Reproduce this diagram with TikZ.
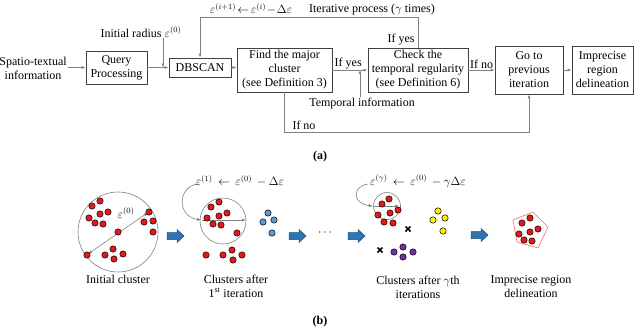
\documentclass[tikz,border=0pt]{standalone}
\usepackage{amssymb, amsmath}
\usepackage{fontspec}
\setmainfont{Liberation Serif}
\usepackage{tikz}
\usetikzlibrary{calc,arrows.meta}
\usetikzlibrary{positioning}
\definecolor{rg-line}{HTML}{808080}
\definecolor{rg-box}{HTML}{404040}
\definecolor{rg-red}{HTML}{E81818}
\definecolor{rg-blue}{HTML}{5B9BD5}
\definecolor{rg-yellow}{HTML}{FFF200}
\definecolor{rg-purple}{HTML}{7030A0}
\definecolor{rg-arrow}{HTML}{2E75B6}
\definecolor{rg-arrowedge}{HTML}{1F4E79}
\definecolor{rg-hull}{HTML}{F06A6A}
\tikzset{
  every node/.style={font=\fontsize{12}{14}\selectfont, inner sep=1pt},
  procbox/.style={draw=rg-box, line width=0.8pt, align=center},
  flow/.style={->, rg-line, line width=0.7pt},
  ringline/.style={rg-line, line width=0.6pt},
  dotmark/.style={draw=black, line width=0.5pt},
  crossmark/.style={black, line width=1.6pt},
  fatarrow/.pic={\draw[fill=rg-arrow, draw=rg-arrowedge, line width=0.5pt]
    (0,-3.5) -- (10,-3.5) -- (10,-6.5) -- (17,0) -- (10,6.5) -- (10,3.5) -- (0,3.5) -- cycle;}
}

\begin{document}
\begin{tikzpicture}[x=1pt, y=-1pt, >={Latex[length=4pt,width=3pt]}]
    \useasboundingbox (0,0) rectangle (640,333);
    % (a) process chain
    \node[align=center] (spatio) at (33,68) {Spatio-textual\\information};
    \node[procbox, minimum width=61, minimum height=33] (query) at (116.5,67.5) {Query\\Processing};
    \node[procbox, minimum width=62, minimum height=19] (dbscan) at (200,67.5) {DBSCAN};
    \node[procbox, minimum width=95, minimum height=44] (major) at (284.5,70) {Find the major\\cluster\\(see Definition 3)};
    \node[procbox, minimum width=100, minimum height=44] (check) at (418,70) {Check the\\temporal regularity\\(see Definition 6)};
    \node[procbox, minimum width=68, minimum height=48] (previous) at (529,70) {Go to\\previous\\iteration};
    \node[procbox, minimum width=61, minimum height=48] (imprecise) at (602.5,70) {Imprecise\\region\\delineation};
    \node (init) at (141,32) {Initial radius $\varepsilon^{(0)}$};
    \node (temporal) at (362,104) {Temporal information};
    \coordinate (initjoin) at (163,67.5);
    \coordinate (tempjoin) at (360,70);
    \draw[flow] (spatio.east |- query.west) -- (query.west);
    \draw[flow] (query.east) -- (dbscan.west);
    \draw[flow] (initjoin |- init.south) -- (initjoin);
    \draw[flow] (dbscan.east) -- (dbscan.east -| major.west);
    \draw[flow] (major.east) -- node[above, black, pos=0.45] {If yes} (check.west);
    \draw[flow] (tempjoin |- temporal.north) -- (tempjoin);
    \draw[flow] (check.east) -- node[above, black] {If no} (previous.west);
    \draw[flow] (previous.east) -- (imprecise.west);
    \draw[flow] (check.north) -- (check.north |- 0,17) -| (dbscan.north);
    \draw[flow] (major.south) -- ++(0,40) -| (previous.south);
    \node at (401,40) {If yes};
    \node at (304,125) {If no};
    \node at (251,9) {$\varepsilon^{(i+1)} \!\leftarrow\! \varepsilon^{(i)} \!-\! \Delta\varepsilon$};
    \node at (372,10) {Iterative process ($\gamma$ times)};
    \node[font=\fontsize{12}{14}\selectfont\bfseries] (alabel) at (320,157) {(a)};
    % (b) shrinking radius
    \draw[ringline] (118,232) circle (40);
    \draw[ringline, <->] (88,254) -- (148,212.5);
    \node at (126,213) {$\varepsilon^{(0)}$};
    \foreach \p in {(92,206),(100,201),(89,218),(100,214),(108,212),(95,223),(103,224),
                    (149,212),(144,222),(153,221),(153,232),(118,232),
                    (87,255),(105,255),(113,249),(114,259),(123,254)}
        \filldraw[dotmark, fill=rg-red] \p circle (3.2);
    \node at (118,279) {Initial cluster};
    \pic at (167,236) {fatarrow};

    \draw[ringline] (223,221) circle (23);
    \draw[ringline, ->] (202,220) -- (246,220);
    \draw[ringline, ->] (198,184) .. controls (178,186) and (176,216) .. (201,220);
    \node at (240,181) {$\varepsilon^{(1)} \,\leftarrow\, \varepsilon^{(0)}\, - \Delta\varepsilon$};
    \foreach \p in {(211,207),(219,202),(207,218),(219,216),(227,213),(213,224),(221,225),
                    (237,233),(206,255),(223,255),(232,250),(233,260),(242,255)}
        \filldraw[dotmark, fill=rg-red] \p circle (3.2);
    \foreach \p in {(268,213),(263,222),(274,220),(272,233)}
        \filldraw[dotmark, fill=rg-blue] \p circle (3.2);
    \node[align=center] at (236,286) {Clusters after\\1\textsuperscript{st} iteration};
    \pic at (289,236) {fatarrow};
    \node[font=\fontsize{13}{14}\selectfont\bfseries] at (326,233) {$\cdots$};
    \pic at (348,236) {fatarrow};

    \draw[ringline] (387,206) circle (13.5);
    \draw[ringline, ->] (374,206) -- (399,206);
    \draw[ringline, ->] (368,184) .. controls (352,186) and (352,204) .. (373,206);
    \node at (418,181) {$\varepsilon^{(\gamma)} \,\leftarrow\, \varepsilon^{(0)}\, - \gamma\Delta\varepsilon$};
    \foreach \p in {(389,199),(382,204),(390,213),(398,210),(378,215),(384,222),(393,223)}
        \filldraw[dotmark, fill=rg-red] \p circle (3.2);
    \foreach \p in {(438,211),(433,220),(445,218),(443,231)}
        \filldraw[dotmark, fill=rg-yellow] \p circle (3.2);
    \foreach \p in {(394,252),(403,247),(413,252),(403,257)}
        \filldraw[dotmark, fill=rg-purple] \p circle (3.2);
    \foreach \p in {(408,229),(380,250)}
        \draw[crossmark] \p ++(-2.5,-2.5) -- ++(5,5) \p ++(-2.5,2.5) -- ++(5,-5);
    \node[align=center] at (418,287) {Clusters after $\gamma$th\\iterations};
    \pic at (471,235) {fatarrow};

    \draw[rg-hull, line width=0.6pt] (513,220) -- (533,212) -- (548,227) -- (538,248) -- (517,242) -- cycle;
    \foreach \p in {(522,223),(530,218),(519,234),(530,232),(538,229),(524,240),(532,241)}
        \filldraw[dotmark, fill=rg-red] \p circle (3.2);
    \node[align=center] at (531,287) {Imprecise region\\delineation};
    \node[font=\fontsize{12}{14}\selectfont\bfseries] (blabel) at (320,322) {(b)};
\end{tikzpicture}
\end{document}
